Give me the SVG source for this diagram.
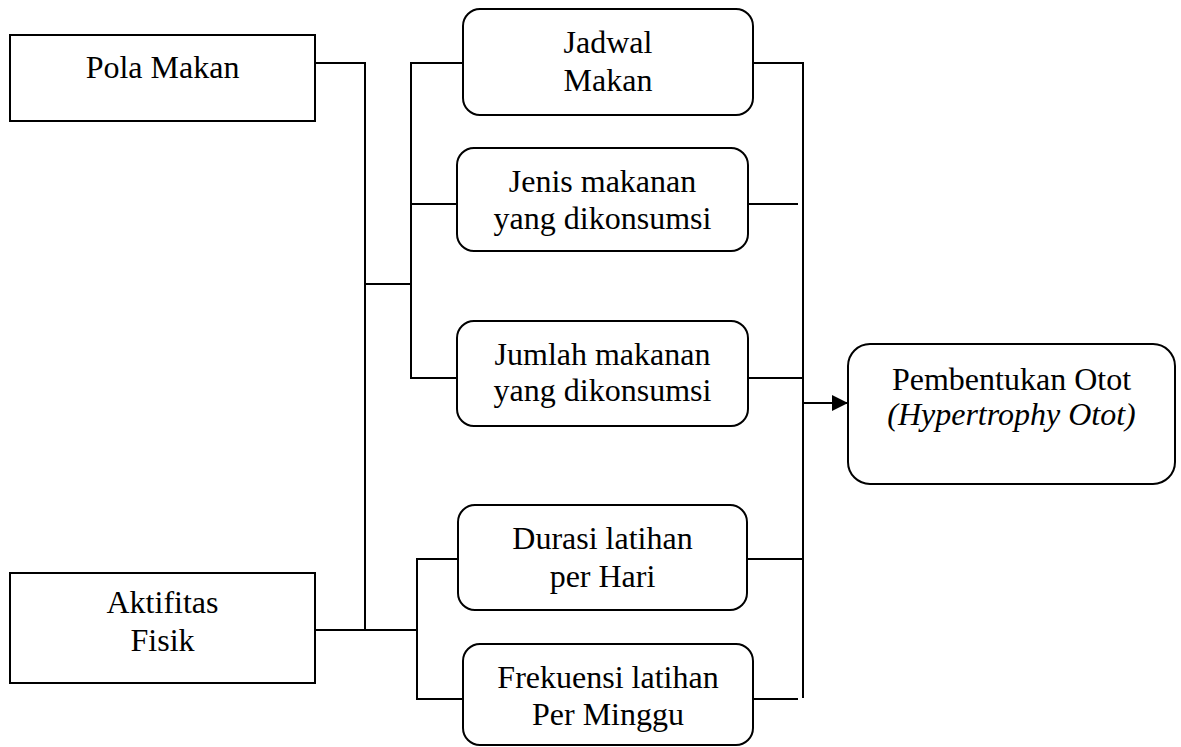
<svg xmlns="http://www.w3.org/2000/svg" width="1181" height="747" viewBox="0 0 1181 747">
<style>
.box{fill:#fff;stroke:#000;stroke-width:2}
.ln{fill:none;stroke:#000;stroke-width:2}
text{font-family:"Liberation Serif","Times New Roman",serif;font-size:32px;fill:#000;text-anchor:middle}
</style>
<defs>
<marker id="arr" markerUnits="userSpaceOnUse" markerWidth="18" markerHeight="16" refX="16" refY="8" orient="auto">
<path d="M0,0 L16,8 L0,16 Z" fill="#000"/>
</marker>
</defs>
<g id="connectors">
<path class="ln" d="M315,63 H365 V630"/>
<path class="ln" d="M315,630 H417"/>
<path class="ln" d="M365,284 H411"/>
<path class="ln" d="M467,63 H411 V378 H457"/>
<path class="ln" d="M411,204 H457"/>
<path class="ln" d="M458,559 H417 V699 H463"/>
<path class="ln" d="M753,63 H803 V698"/>
<path class="ln" d="M748,204 H798"/>
<path class="ln" d="M748,378 H803"/>
<path class="ln" d="M747,559 H803"/>
<path class="ln" d="M753,699 H798"/>
<path class="ln" d="M803,403 H848" marker-end="url(#arr)"/>
</g>
<g id="pola-makan">
<rect class="box" x="10" y="35" width="305" height="86"/>
<text x="162.5" y="78">Pola Makan</text>
</g>
<g id="aktifitas-fisik">
<rect class="box" x="10" y="573" width="305" height="110"/>
<text x="162.5" y="613">Aktifitas</text>
<text x="162.5" y="651">Fisik</text>
</g>
<g id="jadwal-makan">
<rect class="box" x="463" y="9" width="290" height="106" rx="17"/>
<text x="608" y="53">Jadwal</text>
<text x="608" y="91">Makan</text>
</g>
<g id="jenis-makanan">
<rect class="box" x="457" y="148" width="291" height="103" rx="17"/>
<text x="602.5" y="192">Jenis makanan</text>
<text x="602.5" y="229">yang dikonsumsi</text>
</g>
<g id="jumlah-makanan">
<rect class="box" x="457" y="321" width="291" height="105" rx="17"/>
<text x="602.5" y="365">Jumlah makanan</text>
<text x="602.5" y="401">yang dikonsumsi</text>
</g>
<g id="durasi-latihan">
<rect class="box" x="458" y="505" width="289" height="105" rx="17"/>
<text x="602.5" y="549">Durasi latihan</text>
<text x="602.5" y="587">per Hari</text>
</g>
<g id="frekuensi-latihan">
<rect class="box" x="463" y="644" width="290" height="101" rx="17"/>
<text x="608" y="688">Frekuensi latihan</text>
<text x="608" y="725">Per Minggu</text>
</g>
<g id="pembentukan-otot">
<rect class="box" x="848" y="344" width="327" height="140" rx="22"/>
<text x="1011.5" y="390">Pembentukan Otot</text>
<text x="1011.5" y="425" font-style="italic">(Hypertrophy Otot)</text>
</g>
</svg>
